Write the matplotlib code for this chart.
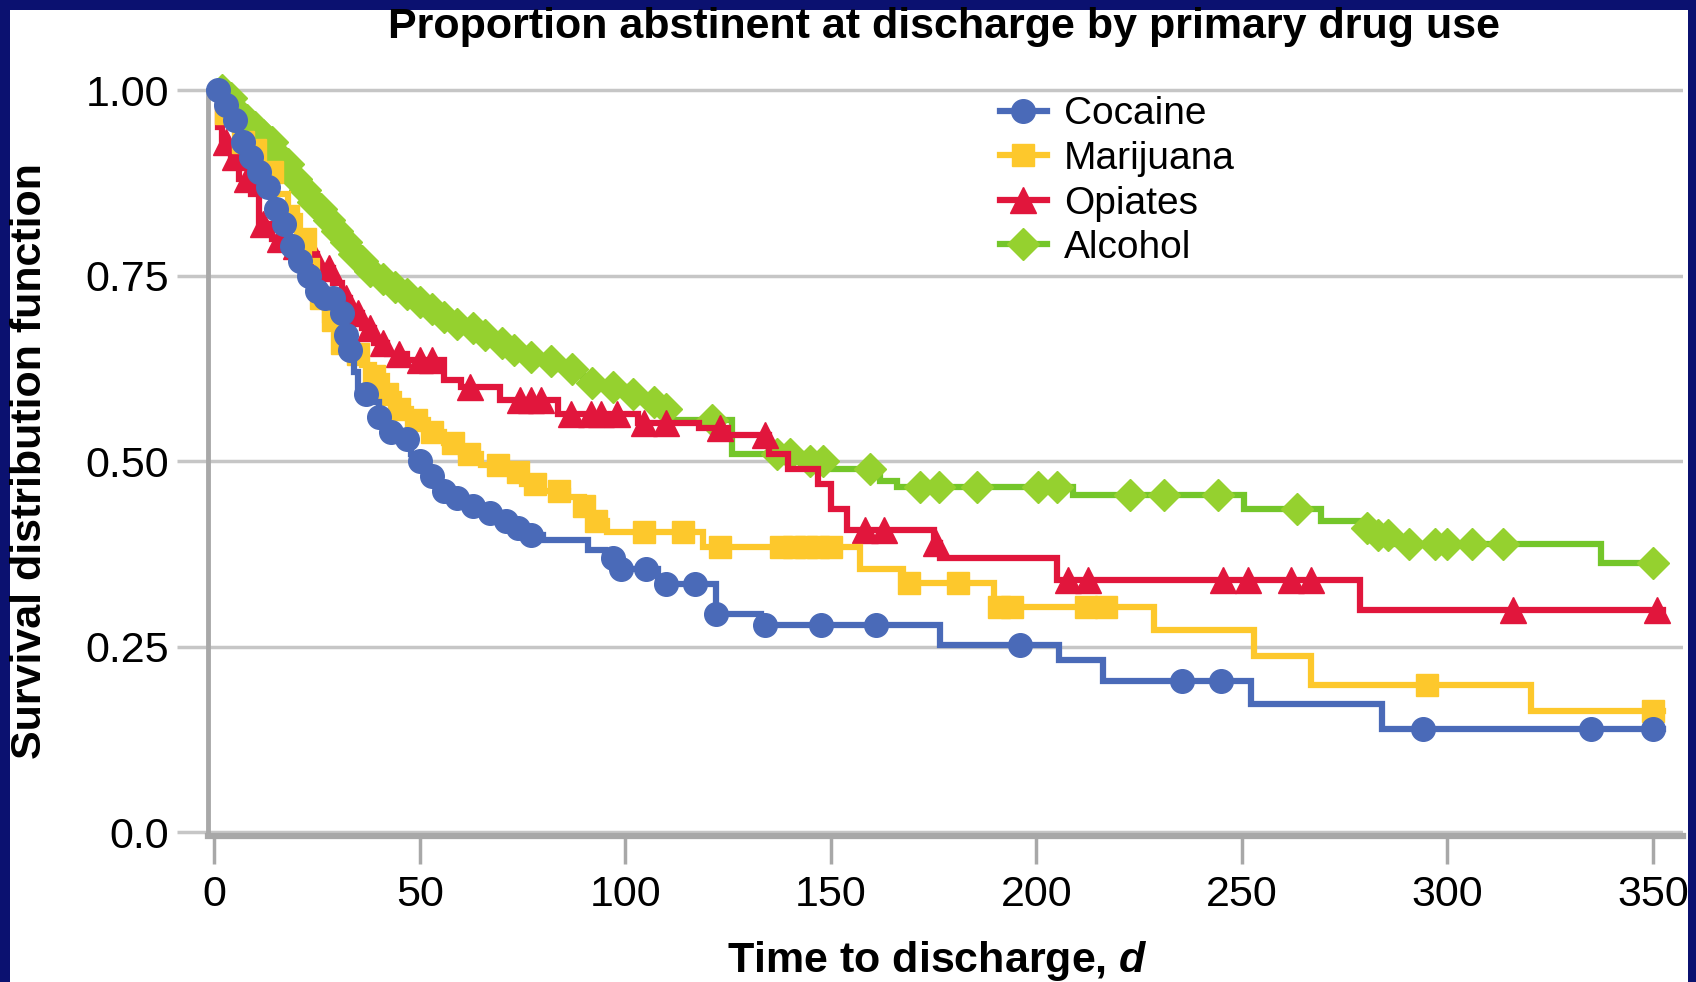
import numpy as np
import matplotlib
matplotlib.use("Agg")
import matplotlib.pyplot as plt
from matplotlib.lines import Line2D
from matplotlib.patches import Rectangle

plt.rcParams['font.family'] = ['Liberation Sans', 'DejaVu Sans']
plt.rcParams['mathtext.fontset'] = 'custom'
plt.rcParams['mathtext.bfit'] = 'Liberation Sans:italic:bold'

# Kaplan-Meier steps: time of each drop and survival after it, plus censoring times
groups = ['Cocaine', 'Marijuana', 'Opiates', 'Alcohol']

coc_t = [0, 2, 4, 6, 8, 10, 12, 14, 16, 18, 20, 22, 24, 27, 30, 32, 33, 34, 35, 38,
         40, 42, 45, 48, 50, 52, 55, 58, 62, 66, 70, 73, 76, 80, 91, 95, 98, 108,
         122, 133, 176.6, 205.6, 216.2, 252.3, 284.2]
coc_s = [1.00, 0.98, 0.96, 0.93, 0.91, 0.89, 0.87, 0.84, 0.82, 0.79, 0.77, 0.75, 0.73,
         0.72, 0.70, 0.67, 0.65, 0.62, 0.59, 0.58, 0.56, 0.54, 0.53, 0.51, 0.50, 0.48,
         0.46, 0.45, 0.44, 0.43, 0.42, 0.41, 0.40, 0.394, 0.38, 0.37, 0.355, 0.335,
         0.294, 0.279, 0.252, 0.232, 0.204, 0.173, 0.139]
coc_cens = [1, 3, 5, 7, 9, 11, 13, 15, 17, 19, 21, 23, 25, 27, 29, 31, 32, 33, 37, 40,
            43, 47, 50, 53, 56, 59, 63, 67, 71, 74, 77, 97, 99, 105, 110, 117, 122,
            134, 147.5, 161, 196, 235.5, 245, 294, 335, 350]

mar_t = [0, 2, 4, 6, 9, 12, 15, 18, 21, 23, 25, 27, 30, 33, 36, 39, 42, 45, 48, 52,
         56, 60, 65, 70, 75, 80, 86, 90, 92, 95.5, 119, 157, 167.5, 189.6, 228.5,
         253, 266.8, 320.4]
mar_s = [1.00, 0.97, 0.95, 0.93, 0.92, 0.89, 0.86, 0.83, 0.80, 0.77, 0.72, 0.69, 0.66,
         0.645, 0.63, 0.615, 0.59, 0.57, 0.555, 0.54, 0.525, 0.51, 0.495, 0.485, 0.47,
         0.46, 0.452, 0.44, 0.42, 0.405, 0.384, 0.355, 0.336, 0.304, 0.272, 0.237,
         0.199, 0.164]
mar_cens = [3, 7, 10, 14, 18, 22, 26, 29, 31, 35, 39, 42, 45, 49, 53, 58, 62, 69, 74,
            78, 84, 90, 93, 104.5, 114, 123, 138, 141, 144, 147, 150, 169, 181, 191,
            194, 212, 217, 295, 350]

opi_t = [0, 1, 2, 4, 6, 9, 11, 14, 17, 21, 25, 29, 31, 33, 36, 39, 42, 47, 55.8, 60,
         69.6, 83.6, 103, 118, 125, 135, 139.5, 147, 150, 154, 175, 176.5, 205, 278.7]
opi_s = [1.00, 0.95, 0.93, 0.91, 0.88, 0.86, 0.82, 0.80, 0.79, 0.78, 0.76, 0.74, 0.72,
         0.70, 0.68, 0.66, 0.645, 0.636, 0.609, 0.60, 0.582, 0.564, 0.551, 0.545,
         0.535, 0.51, 0.49, 0.47, 0.436, 0.407, 0.39, 0.369, 0.34, 0.30]
opi_cens = [3, 5, 8, 12, 16, 20, 24, 28, 32, 35, 38, 41, 45, 50, 53, 62.3, 74.5, 77,
            79.5, 86.8, 91.6, 94, 98.1, 104.6, 110, 123, 134, 158.2, 163, 175.5, 207.6,
            212.5, 245.5, 251.4, 262, 266.8, 316, 351]

alc_t = [0, 3, 5, 7, 9, 11, 13, 15, 17, 19, 21, 23, 25, 27, 29, 31, 33, 35, 37, 40,
         43, 46, 49, 52, 55, 58, 62, 65, 68, 72, 76, 80, 84, 88, 91, 95, 100, 104, 108,
         111, 126, 143, 150, 162, 166, 209, 250.6, 269.3, 279, 282, 286, 337.4]
alc_s = [1.00, 0.99, 0.97, 0.96, 0.95, 0.94, 0.93, 0.91, 0.90, 0.88, 0.865, 0.85, 0.84,
         0.825, 0.81, 0.795, 0.78, 0.77, 0.757, 0.745, 0.735, 0.725, 0.715, 0.705,
         0.695, 0.685, 0.68, 0.67, 0.66, 0.65, 0.64, 0.635, 0.625, 0.615, 0.605, 0.60,
         0.59, 0.58, 0.57, 0.555, 0.51, 0.50, 0.49, 0.474, 0.465, 0.454, 0.436, 0.42,
         0.41, 0.40, 0.389, 0.363]
alc_cens = [2, 4, 6, 8, 10, 12, 14, 16, 18, 20, 22, 24, 26, 28, 30, 32, 34, 36, 38, 41,
            44, 47, 50, 53, 56, 59, 63, 66, 70, 73, 77, 82, 87, 92, 97, 102, 107, 110,
            121, 137, 140, 145, 148, 159.6, 171.7, 176.2, 185.5, 200.5, 205, 222.8, 231,
            244.2, 263.4, 280.4, 283, 285.5, 290.6, 297, 300, 306, 313.6, 350]

followup_end = [352.5, 352.5, 352.5, 351]

line_colors = ['#4a6ab8', '#fdc82c', '#e1163c', '#74c62a']
marker_colors = ['#4a6ab8', '#fdc82c', '#e1163c', '#95d12f']
markers = ['o', 's', '^', 'D']
marker_sizes = [17, 16, 19, 16]
zorders = [6, 5, 4, 3]

series = [(coc_t, coc_s, coc_cens), (mar_t, mar_s, mar_cens),
          (opi_t, opi_s, opi_cens), (alc_t, alc_s, alc_cens)]

W, H = 1696, 982
fig = plt.figure(figsize=(W / 100, H / 100), dpi=100)
fig.patch.set_facecolor('#0b1170')
fig.add_artist(Rectangle((10 / W, 0), (1688 - 10) / W, 1 - 10 / H,
                         transform=fig.transFigure, facecolor='white',
                         edgecolor='none', zorder=0))

ax = fig.add_axes([208 / W, 1 - 836 / H, 1475 / W, 768 / H])
ax.patch.set_alpha(0)

for i, (t, s, cens) in enumerate(series):
    t_all = np.append(t, followup_end[i])
    s_all = np.append(s, s[-1])
    ax.step(t_all, s_all, where='post', color=line_colors[i], lw=4.5,
            solid_joinstyle='miter', zorder=zorders[i])
    idx = np.searchsorted(t, cens, side='right') - 1
    cens_s = np.asarray(s)[idx]
    ax.plot(cens, cens_s, linestyle='none', marker=markers[i],
            markersize=marker_sizes[i], markerfacecolor=marker_colors[i],
            markeredgecolor=marker_colors[i], zorder=zorders[i] + 0.5,
            clip_on=False)

ax.set_xlim(-1.5, 357.3)
ax.set_ylim(-0.005, 1.03)
ax.set_xticks([0, 50, 100, 150, 200, 250, 300, 350])
ax.set_yticks([0, 0.25, 0.5, 0.75, 1.0])
ax.set_yticklabels(['0.0', '0.25', '0.50', '0.75', '1.00'])

ax.yaxis.grid(True, color='#c6c6c6', lw=2.5)
ax.set_axisbelow(True)
ax.tick_params(axis='y', length=22, width=2.5, color='#c6c6c6', pad=6,
               labelsize=31)
ax.tick_params(axis='x', length=20, width=2.5, color='#a8a8a8', pad=8,
               labelsize=31)

for side in ['top', 'right']:
    ax.spines[side].set_visible(False)
ax.spines['left'].set_color('#a8a8a8')
ax.spines['left'].set_linewidth(3.5)
ax.spines['left'].set_bounds(-0.005, 1.0)
ax.spines['bottom'].set_color('#a8a8a8')
ax.spines['bottom'].set_linewidth(4.5)

fig.text(944 / W, 1 - 38 / H, 'Proportion abstinent at discharge by primary drug use',
         ha='center', va='baseline', fontsize=31, fontweight='bold')
fig.text(30 / W, 1 - 461 / H, 'Survival distribution function', rotation=90,
         ha='center', va='center', fontsize=31, fontweight='bold')
fig.text(937 / W, 1 - 972 / H, r'Time to discharge, $\mathbfit{d}$',
         ha='center', va='baseline', fontsize=31, fontweight='bold')

handles = [Line2D([], [], color=line_colors[i], lw=4.5, marker=markers[i],
                  markersize=marker_sizes[i], markerfacecolor=marker_colors[i],
                  markeredgecolor=marker_colors[i]) for i in range(4)]
ax.legend(handles, groups, loc='upper left', bbox_to_anchor=(0.537, 0.963),
          frameon=False, fontsize=28, handlelength=1.2, handletextpad=0.45,
          labelspacing=0.22, borderaxespad=0, borderpad=0)

fig.savefig('out.png', dpi=100, facecolor=fig.get_facecolor())
